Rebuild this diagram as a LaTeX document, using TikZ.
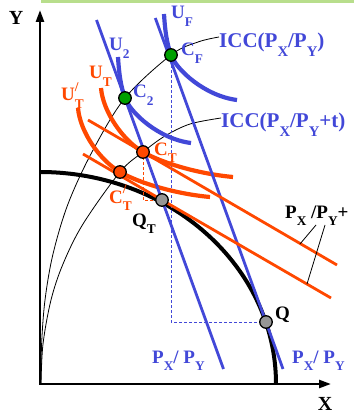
\documentclass[tikz,border=0pt]{standalone}
\usepackage{fontspec}
\setmainfont{Liberation Serif}
\usetikzlibrary{arrows.meta}
\definecolor{bl}{RGB}{66,72,216}
\definecolor{org}{RGB}{255,72,0}
\definecolor{gfill}{RGB}{0,160,0}
\definecolor{qfill}{RGB}{150,150,150}
\definecolor{topg}{RGB}{184,222,140}
\newcommand\lo[1]{\raisebox{-0.4em}{\scalebox{0.7}{#1}}}
\newcommand\pr{\rlap{\raisebox{0.5em}{\scalebox{0.7}{/}}}}
\begin{document}
\begin{tikzpicture}[x=1pt,y=-1pt,
  lbl/.style={inner sep=0pt, anchor=base west, font=\bfseries\fontsize{19}{19}\selectfont},
  big/.style={inner sep=0pt, anchor=base west, font=\bfseries\fontsize{21}{21}\selectfont},
  mid/.style={inner sep=0pt, anchor=base west, font=\bfseries\fontsize{19}{19}\selectfont},
  bline/.style={bl, line width=2.8pt},
  oline/.style={org, line width=2.8pt},
  bcurve/.style={bl, line width=4.2pt},
  ocurve/.style={org, line width=4.2pt},
  icc/.style={black, line width=0.8pt},
  dsh/.style={line width=0.8pt, dash pattern=on 3pt off 2pt},
  dot/.style={circle, draw=black, line width=1.3pt, minimum size=12.5pt, inner sep=0pt}]
\useasboundingbox (0,0) rectangle (354,414);
\fill[topg] (41,0) rectangle (354,3.5);

% key points
\coordinate (O) at (40,384);
\coordinate (QT) at (162,200);
\coordinate (Q) at (266,322);
\coordinate (C2) at (125,98);
\coordinate (CF) at (171,55);
\coordinate (CT) at (143,152);
\coordinate (CTp) at (120,172);

% axes
\draw[line width=2.5pt, {Triangle[length=12pt,width=8pt]}-{Triangle[length=12pt,width=8pt]}] (40,10) -- (O) -- (331,384);
\node[font=\bfseries\fontsize{20}{20}\selectfont, inner sep=0] (ylab) at (16,18) {Y};
\node[font=\bfseries\fontsize{20}{20}\selectfont, inner sep=0, anchor=base] (xlab) at (325,410) {X};

% ICC curves
\draw[icc] plot[smooth, tension=0.55] coordinates {(41,384) (41.6,344) (45,300) (53,254) (68,204) (92,152) (C2) (CF) (198,42) (219,37)};
\draw[icc] plot[smooth, tension=0.55] coordinates {(41,384) (43,344) (51,300) (63,264) (83,224) (CTp) (CT) (165,136) (190,124) (221,118)};

% PPF
\draw[line width=4pt] (40,172) arc[start angle=-90, end angle=0, x radius=236, y radius=212];

% dashed projections
\draw[bl, dsh] (CF) -- (CF |- Q) -- (Q);
\draw[org, dsh] (CT) -- (CT |- QT) -- (QT);

% indifference curves
\draw[bcurve] (164,14) .. controls (165,30) and (166.6,43) .. (CF) .. controls (176.5,70) and (205,96) .. (237,100);
\draw[bcurve] (118,57) .. controls (119,73) and (120.6,86) .. (C2) .. controls (130.5,113) and (159,139) .. (191,143);
\draw[ocurve] (101,88) .. controls (103,112) and (123,140.4) .. (CT) .. controls (163,163.6) and (200,174) .. (233,177);
\draw[ocurve] (78,108) .. controls (80,132) and (100,160.4) .. (CTp) .. controls (140,183.6) and (177,194) .. (210,197);

% budget lines
\draw[bline] (96.5,20) -- (QT) -- (223.5,369);
\draw[bline] (155.3,18) -- (Q) -- (283,369);
\draw[oline] (88,120) -- (CT) -- (337,265);
\draw[oline] (83,154) -- (QT) -- (331,298);

% points
\node[dot, fill=gfill] (c2) at (C2) {};
\node[dot, fill=gfill] (cf) at (CF) {};
\node[dot, fill=org] (ct) at (CT) {};
\node[dot, fill=org] (ctp) at (CTp) {};
\node[dot, fill=qfill] (qt) at (QT) {};
\node[dot, fill=qfill] (q) at (Q) {};

% labels
\node[lbl, bl] (u2) at (109,51) {U\lo{2}};
\node[lbl, bl] (uf) at (171,19) {U\lo{F}};
\node[lbl, bl] (cfl) at (181,56) {C\lo{F}};
\node[lbl, bl] (c2l) at (133,98) {C\lo{2}};
\node[lbl, org] (utl) at (89,79) {U\lo{T}};
\node[lbl, org] (utpl) at (61,101) {U\pr\lo{T}};
\node[lbl, org] (ctl) at (154,155) {C\lo{T}};
\node[lbl, org] (ctpl) at (109,203) {C\pr\lo{T}};
\node[lbl] (qtl) at (132,226) {Q\lo{T}};
\node[lbl] (ql) at (275,319) {Q};
\node[big, bl] (icc1) at (219,48) {ICC(P\lo{X}/P\lo{Y})};
\node[big, bl] (icc2) at (221,128) {ICC(P\lo{X}/P\lo{Y}+t)};
\node[mid, bl] (p1) at (152,363) {P\lo{X}/ P\lo{Y}};
\node[mid, bl] (p2) at (292,363) {P\lo{X}/ P\lo{Y}};
\node[mid] (pt) at (285,218) {P\lo{X} /P\lo{Y}+};
\coordinate (la) at (300,244);
\coordinate (lb) at (307,284);
\draw[line width=0.8pt] (316,225) -- (la);
\draw[line width=0.8pt] (325,225) -- (lb);
\end{tikzpicture}
\end{document}
